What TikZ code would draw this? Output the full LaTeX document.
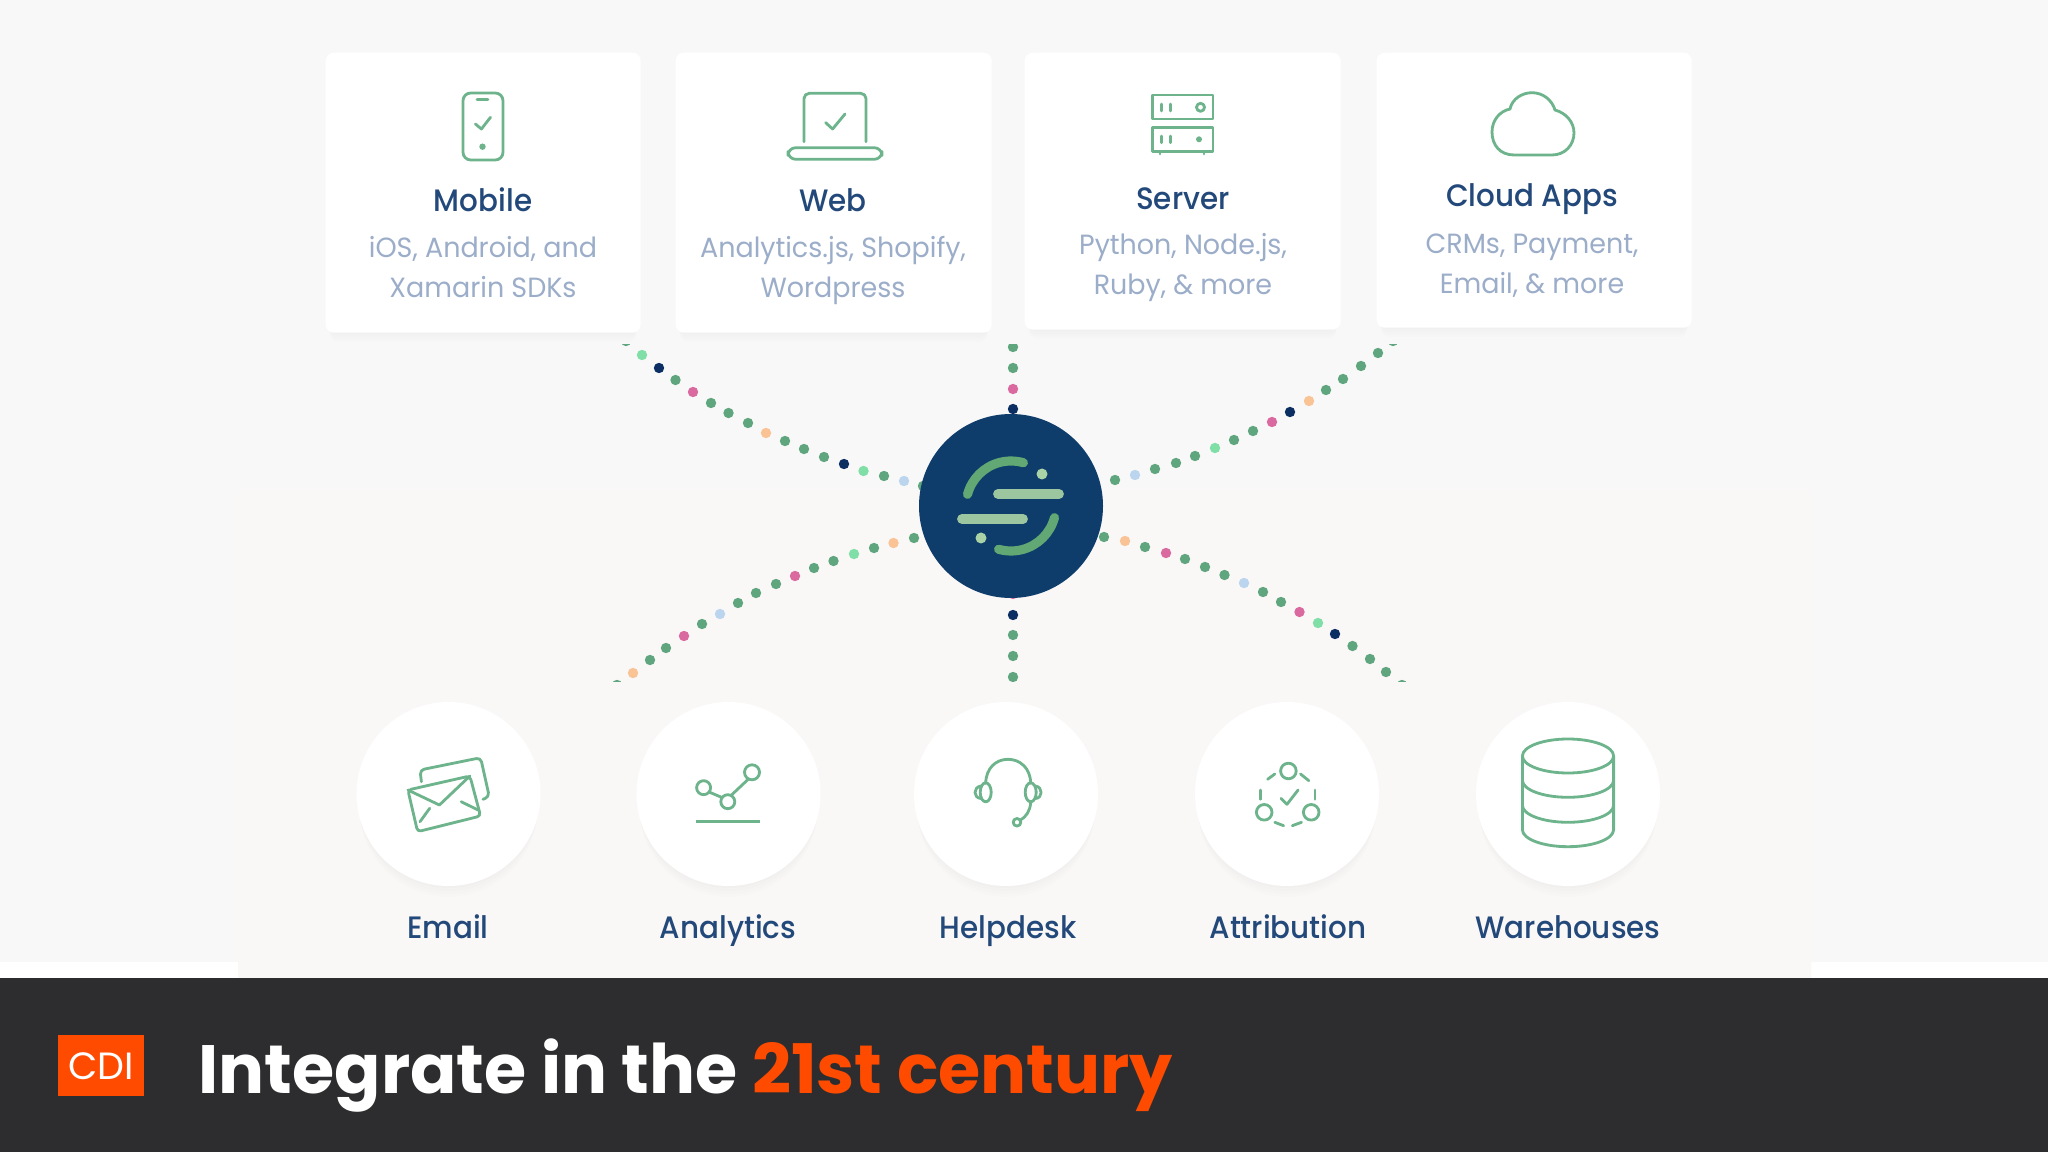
\documentclass[tikz,border=0pt]{standalone}
\usepackage{fontspec}
\usepackage{xcolor}
\setmainfont{Poppins}
\newfontfamily\cardlabelfont[FakeStretch=0.95]{Poppins Medium}
\newfontfamily\cardbodyfont[FakeStretch=0.97]{Poppins}
\usetikzlibrary{shadows}
\definecolor{pagegrey}{HTML}{F8F8F8}
\definecolor{paneltop}{HTML}{F9F8F8}
\definecolor{panelbottom}{HTML}{FAF7F7}
\definecolor{barblack}{HTML}{2D2D2F}
\definecolor{cdiorange}{HTML}{FF4B00}
\definecolor{hubblue}{HTML}{0E3D6B}
\definecolor{titleblue}{HTML}{23497A}
\definecolor{subblue}{HTML}{9BADC9}
\definecolor{icongreen}{HTML}{6DB38B}
\definecolor{g}{HTML}{5FA67F}
\definecolor{n}{HTML}{0B2F63}
\definecolor{p}{HTML}{D9699F}
\definecolor{o}{HTML}{F9C396}
\definecolor{l}{HTML}{7FDFA6}
\definecolor{b}{HTML}{BCD5EE}
\definecolor{arcgreen}{HTML}{62A874}
\definecolor{bargreen}{HTML}{9CC6A0}
\definecolor{dotgreen}{HTML}{A9D2A7}

\begin{document}
\begin{tikzpicture}[x=0.01cm, y=-0.01cm,
            softshadow/.style={
                general shadow={fill=black, opacity=0.009, shadow xshift=0pt, shadow yshift=-1pt, shadow scale=0.985},
                general shadow={fill=black, opacity=0.009, shadow xshift=0pt, shadow yshift=-2pt, shadow scale=0.98},
                general shadow={fill=black, opacity=0.009, shadow xshift=0pt, shadow yshift=-3pt, shadow scale=0.975},
                general shadow={fill=black, opacity=0.009, shadow xshift=0pt, shadow yshift=-4pt, shadow scale=0.97}},
            card/.style={softshadow, fill=white, rectangle, rounded corners=2.3pt, inner sep=0pt, anchor=north west},
            disc/.style={softshadow, fill=white, circle, minimum size=184*0.01cm, inner sep=0pt},
            cardtitle/.style={font=\fontsize{8.8pt}{11pt}\cardlabelfont, text=titleblue, anchor=base, inner sep=0pt},
            cardtext/.style={font=\fontsize{7.9pt}{11.5pt}\cardbodyfont, text=subblue, anchor=base, align=center, inner sep=0pt},
            disclabel/.style={font=\fontsize{8.8pt}{11pt}\cardlabelfont, text=titleblue, anchor=base, inner sep=0pt},
            icon/.style={draw=icongreen, line width=0.8pt, line cap=round, line join=round}]

    % page
    \useasboundingbox (0,0) rectangle (2048,1152);
    \fill[pagegrey] (0,0) rectangle (2048,1152);
    \fill[white] (0,962) rectangle (238,978);
    \fill[white] (1811,962) rectangle (2048,978);
    \shade[top color=paneltop, bottom color=panelbottom] (238,0) rectangle (1811,978);

    % top cards
    \node[card, minimum width=315*0.01cm, minimum height=280*0.01cm] (mobile) at (325,52) {};
    \node[card, minimum width=316*0.01cm, minimum height=280*0.01cm] (web) at (675,52) {};
    \node[card, minimum width=316*0.01cm, minimum height=277*0.01cm] (server) at (1024,52) {};
    \node[card, minimum width=315*0.01cm, minimum height=275*0.01cm] (cloud) at (1376,52) {};

    \node[cardtitle] (mobiletitle) at (483,211.5) {Mobile};
    \node[cardtitle] (webtitle) at (833,211.5) {Web};
    \node[cardtitle] (servertitle) at (1183,209.5) {Server};
    \node[cardtitle] (cloudtitle) at (1532,206.5) {Cloud Apps};

    \node[cardtext] (mobiletext) at (483,298) {iOS, Android, and\\Xamarin SDKs};
    \node[cardtext] (webtext) at (833,298) {Analytics.js, Shopify,\\Wordpress};
    \node[cardtext] (servertext) at (1183,295) {Python, Node.js,\\Ruby, \& more};
    \node[cardtext] (cloudtext) at (1532,293.5) {CRMs, Payment,\\Email, \& more};

    % phone
    \draw[icon, rounded corners=2.2pt] (463,93) rectangle (503,160);
    \draw[icon] (477,99.5) -- (488,99.5);
    \draw[icon] (475.4,124) -- (481.4,129) -- (490.5,117.3);
    \fill[icongreen] (482.5,146.7) circle (3.2);
    % laptop
    \draw[icon, rounded corners=1.5pt] (804,141.7) -- (804,93.3) -- (866,93.3) -- (866,141.7);
    \draw[icon] (825.7,122.7) -- (832.6,129) -- (845,114);
    \draw[icon, rounded corners=2.2pt] (788,147.7) -- (788,159.3) -- (882,159.3) -- (882,147.7) -- cycle;
    % server
    \draw[icon] (1152.3,95) rectangle (1213,119);
    \draw[icon] (1152.3,127.3) rectangle (1213,151.7);
    \draw[icon] (1160,152) -- (1160,154) (1204,152) -- (1204,154);
    \draw[icon] (1161.5,104) -- (1161.5,111) (1170.7,104) -- (1170.7,111);
    \draw[icon] (1161.5,136) -- (1161.5,142.7) (1170.7,136) -- (1170.7,142.7);
    \draw[icon] (1200.5,107.3) circle (4);
    \fill[icongreen] (1199,139.3) circle (3);
    % cloud
    \draw[icon] (1514,155) .. controls (1500,155) and (1492,145) .. (1492,132)
        .. controls (1492,120) and (1500,111) .. (1510,109)
        .. controls (1512,99) and (1522,92.7) .. (1532,92.7)
        .. controls (1543,92.7) and (1552,100) .. (1555,110)
        .. controls (1566,113) and (1574,122) .. (1574,133)
        .. controls (1574,145) and (1565,155) .. (1552,155) -- cycle;

    % dotted spokes
    \begin{scope}
        \clip (238,345) rectangle (1811,681);
        \foreach \x/\y/\c in {626/341/g, 642/355/l, 659/368/n, 675.5/380/g, 693/392/p, 711/403/g, 728.5/413/g,
                748/423/g, 766/433/o, 785/441/g, 804/449/g, 824/457/g, 844/464/n, 863.5/471/l, 884/476/g, 904/481/b, 923/486/g,
                1393/341/g, 1378/353/g, 1361/366/g, 1343/379/g, 1326/390/g, 1309/401/o, 1290/412/n, 1272/422/p,
                1253/431/g, 1234/440/g, 1215/448/l, 1195/456/g, 1176/463/g, 1155/469/g, 1135/475/b, 1115/480/g,
                1013/347/g, 1013/368/g, 1013/389/p, 1013/409/n,
                1013/594/p, 1013/615/n, 1013/635/g, 1013/656/g, 1013/677/g,
                914/538/g, 893.5/543/o, 874/548/g, 854/554/l, 833.5/561/g, 814/568/g, 795/576/p, 776/584/g,
                756/593/g, 738/603/g, 720/614/b, 702/624/g, 684/636/p, 666/648/g, 650/660/g, 633/673/o, 617/685/g,
                1104/537/g, 1125/541/o, 1145/547/g, 1166/553/p, 1185/559/g, 1205/567/g, 1224.5/575/g, 1244/583/b,
                1263/592/g, 1281/602/g, 1299.5/612/p, 1318/623/l, 1335/634/n, 1352.5/646/g, 1370/659/g, 1386/672/g, 1402/685/g}
            \fill[\c] (\x,\y) circle (5.2);
    \end{scope}

    % hub
    \node[fill=hubblue, circle, minimum size=184*0.01cm, inner sep=0pt] (hub) at (1011,506) {};
    \draw[arcgreen, line width=2.6pt, line cap=round] (hub.center) ++(-165:45) arc[start angle=-165, end angle=-74, radius=45];
    \draw[arcgreen, line width=2.6pt, line cap=round] (hub.center) ++(15:45) arc[start angle=15, end angle=106, radius=45];
    \draw[bargreen, line width=2.8pt, line cap=round] (998,494) -- (1059,494);
    \draw[bargreen, line width=2.8pt, line cap=round] (962,519) -- (1023,519);
    \fill[dotgreen] (1042,474) circle (5.5);
    \fill[dotgreen] (981,538) circle (5.5);

    % bottom discs
    \node[disc] (email) at (448.5,794) {};
    \node[disc] (analytics) at (728.5,794) {};
    \node[disc] (helpdesk) at (1006,794) {};
    \node[disc] (attribution) at (1287,794) {};
    \node[disc] (warehouses) at (1568,794) {};

    \node[disclabel] (emaillabel) at (448,938) {Email};
    \node[disclabel] (analyticslabel) at (728,938) {Analytics};
    \node[disclabel] (helpdesklabel) at (1008,938) {Helpdesk};
    \node[disclabel] (attributionlabel) at (1288,938) {Attribution};
    \node[disclabel] (warehouseslabel) at (1568,938) {Warehouses};

    % envelopes
    \draw[icon, rounded corners=1.2pt] (421.4,781.7) -- (420,770) -- (480.6,757.7) -- (489.3,796.7) -- (483,799.3);
    \draw[icon, rounded corners=1pt] (407.9,790) -- (469.9,776) -- (480.6,816) -- (417.6,831.7) -- cycle;
    \draw[icon] (407.9,790) -- (439.4,805) -- (469.9,776);
    \draw[icon] (420,821.7) -- (429.7,808.3) (461.2,801.7) -- (478,810);
    % trend line
    \draw[icon] (703.6,787.7) circle (7);
    \draw[icon] (727.8,801.7) circle (7);
    \draw[icon] (752,772.3) circle (7.5);
    \draw[icon] (709,792) -- (722,797.5) (731,795.5) -- (748.5,779);
    \draw[icon, line width=1pt, line cap=butt] (696.3,821.7) -- (759.8,821.7);
    % headset
    \draw[icon] (985.7,783.3) .. controls (986,768) and (996,759.3) .. (1008,759.3) .. controls (1020,759.3) and (1030.4,768) .. (1030.7,783.3);
    \draw[icon] (985.7,792.3) ellipse (5.5 and 9.5);
    \draw[icon] (1030.7,792.3) ellipse (5.5 and 9.5);
    \draw[icon] (981,786) .. controls (973,787) and (973,798) .. (981,798.5);
    \draw[icon] (1035.5,786) .. controls (1043,787) and (1043,798) .. (1035.5,798.5);
    \draw[icon] (1030.7,802.7) .. controls (1030,811) and (1026,817) .. (1020.5,820);
    \draw[icon] (1017,822.3) circle (3.8);
    % attribution loop
    \draw[icon] (1288.4,771) circle (7.8);
    \draw[icon] (1264.2,812.3) circle (7.8);
    \draw[icon] (1311.2,812.3) circle (7.8);
    \draw[icon] (1281,798.3) -- (1287,804.3) -- (1298.1,790);
    \draw[icon] (1267.6,779.3) -- (1274.8,774) (1300.5,774) -- (1308.8,780.7);
    \draw[icon] (1260.8,790) -- (1260.8,799.3) (1315,790) -- (1315,799.3);
    \draw[icon] (1274.8,822.3) -- (1283.6,825.7) (1292.3,825.7) -- (1301.5,822.3);
    % cylinder
    \draw[icon] (1568,756) ellipse (45.6 and 17);
    \draw[icon] (1522.4,756) -- (1522.4,829.7) arc[start angle=180, end angle=0, x radius=45.6, y radius=17] -- (1613.6,756);
    \draw[icon] (1522.4,780.3) arc[start angle=180, end angle=0, x radius=45.6, y radius=17];
    \draw[icon] (1522.4,805.3) arc[start angle=180, end angle=0, x radius=45.6, y radius=17];

    % title bar
    \fill[barblack] (0,978) rectangle (2048,1152);
    \node[fill=cdiorange, minimum width=86.5*0.01cm, minimum height=60.5*0.01cm, inner sep=0pt] (badge) at (100.9,1065.4) {};
    \node[font=\fontsize{10.8pt}{12pt}\selectfont, text=white, anchor=base, inner sep=0pt] (badgetext) at (badge.center |- 0,1079) {CDI};
    \node[font=\fontsize{19.43pt}{22pt}\selectfont\bfseries, text=white, anchor=base west, inner sep=0pt] (bartitle) at (198,1093) {Integrate in the \textcolor{cdiorange}{21st century}};
\end{tikzpicture}
\end{document}
